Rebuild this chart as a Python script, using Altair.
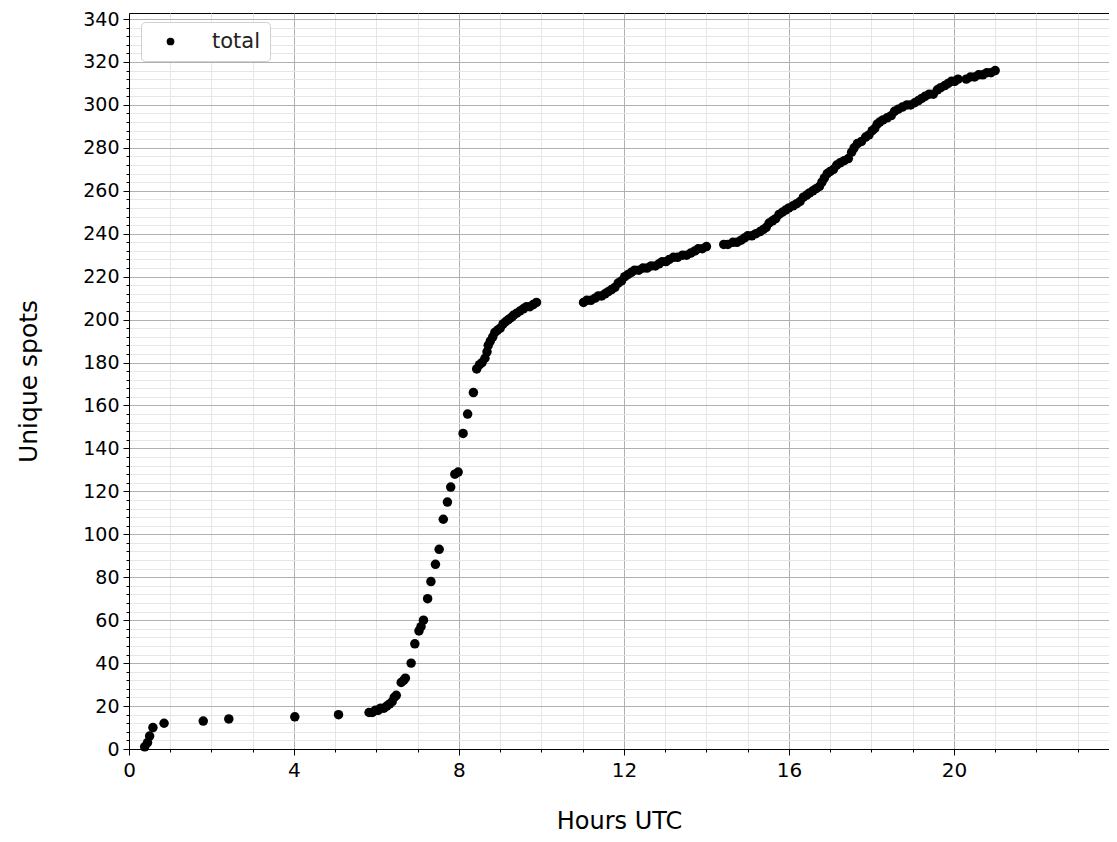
import altair as alt
import pandas as pd

# Hours UTC of each unique spot
hours = [
    0.38, 0.45, 0.50, 0.58, 0.85, 1.80, 2.42, 4.02, 5.08, 5.82,
    5.90, 5.97, 6.04, 6.10, 6.18, 6.25, 6.32, 6.38, 6.43, 6.48,
    6.60, 6.66, 6.70, 6.84, 6.93, 7.03, 7.08, 7.14, 7.24, 7.32,
    7.43, 7.52, 7.62, 7.72, 7.80, 7.90, 7.98, 8.10, 8.21, 8.35,
    8.43, 8.50, 8.56, 8.63, 8.68, 8.71, 8.76, 8.82, 8.87, 8.93,
    9.00, 9.07, 9.13, 9.20, 9.27, 9.32, 9.40, 9.48, 9.56, 9.64,
    9.72, 9.80, 9.88,
    11.02, 11.10, 11.20, 11.30, 11.38, 11.46, 11.54, 11.62, 11.70, 11.78,
    11.86, 11.94, 12.02, 12.10, 12.18, 12.26, 12.36, 12.46, 12.56, 12.66,
    12.76, 12.85, 12.93, 13.02, 13.10, 13.20, 13.30, 13.42, 13.52, 13.62,
    13.72, 13.80, 13.90, 14.00,
    14.42, 14.52, 14.64, 14.74, 14.84, 14.92, 15.00, 15.10, 15.20, 15.30,
    15.38, 15.45, 15.52, 15.60, 15.68, 15.76, 15.84, 15.92, 16.00, 16.10,
    16.19, 16.27, 16.35, 16.43, 16.50, 16.58, 16.66, 16.74, 16.80, 16.86,
    16.93, 17.00, 17.08, 17.16, 17.24, 17.34, 17.44, 17.52, 17.58, 17.66,
    17.76, 17.86, 17.94, 18.02, 18.08, 18.14, 18.20, 18.28, 18.38, 18.48,
    18.56, 18.65, 18.75, 18.86, 18.95, 19.05, 19.14, 19.22, 19.30, 19.40,
    19.50, 19.60, 19.68, 19.78, 19.86, 19.94, 20.02, 20.10,
    20.30, 20.40, 20.50, 20.60, 20.70, 20.80, 20.90, 21.00,
]

# Cumulative unique spots at those times
spots = [
    1, 3, 6, 10, 12, 13, 14, 15, 16, 17,
    17, 18, 18, 19, 19, 20, 21, 22, 24, 25,
    31, 32, 33, 40, 49, 55, 57, 60, 70, 78,
    86, 93, 107, 115, 122, 128, 129, 147, 156, 166,
    177, 179, 180, 182, 185, 188, 190, 192, 194, 195,
    196, 198, 199, 200, 201, 202, 203, 204, 205, 206,
    206, 207, 208,
    208, 209, 209, 210, 211, 211, 212, 213, 214, 215,
    217, 218, 220, 221, 222, 223, 223, 224, 224, 225,
    225, 226, 227, 227, 228, 229, 229, 230, 230, 231,
    232, 233, 233, 234,
    235, 235, 236, 236, 237, 238, 239, 239, 240, 241,
    242, 243, 245, 246, 247, 249, 250, 251, 252, 253,
    254, 255, 257, 258, 259, 260, 261, 262, 264, 266,
    268, 269, 270, 272, 273, 274, 275, 278, 280, 282,
    283, 285, 286, 288, 289, 291, 292, 293, 294, 295,
    297, 298, 299, 300, 300, 301, 302, 303, 304, 305,
    305, 307, 308, 309, 310, 311, 311, 312,
    312, 313, 313, 314, 314, 315, 315, 316,
]

series = ["total"] * len(hours)

x_major = [0, 4, 8, 12, 16, 20]
x_minor = [h for h in range(1, 24) if h % 4 != 0]
y_major = list(range(0, 341, 20))
y_minor = [v for v in range(4, 341, 4) if v % 20 != 0]

df = pd.DataFrame({"hours": hours, "spots": spots, "series": series})

FONT = "DejaVu Sans"
xscale = alt.Scale(domain=[0, 23.76], nice=False, zero=False)
yscale = alt.Scale(domain=[0, 342.8], nice=False)

minor = alt.Chart(df).mark_point(opacity=0).encode(
    x=alt.X("hours:Q", scale=xscale,
            axis=alt.Axis(values=x_minor, labels=False, domain=False, tickSize=3,
                          tickColor="black", grid=True, gridColor="#e6e6e6",
                          gridWidth=1, title=None, orient="bottom")),
    y=alt.Y("spots:Q", scale=yscale,
            axis=alt.Axis(values=y_minor, labels=False, domain=False, tickSize=3,
                          tickColor="black", grid=True, gridColor="#e6e6e6",
                          gridWidth=1, title=None, orient="left")),
)

major = alt.Chart(df).mark_circle(size=90, opacity=1).encode(
    x=alt.X("hours:Q", scale=xscale,
            axis=alt.Axis(values=x_major, title="Hours UTC", grid=True,
                          gridColor="#b0b0b0", gridWidth=1, tickSize=6,
                          domainColor="black", tickColor="black",
                          labelFontSize=20, titleFontSize=24, labelPadding=5,
                          labelFlush=False, titlePadding=29, orient="bottom")),
    y=alt.Y("spots:Q", scale=yscale,
            axis=alt.Axis(values=y_major, title="Unique spots", grid=True,
                          gridColor="#b0b0b0", gridWidth=1, tickSize=6,
                          domainColor="black", tickColor="black",
                          labelFontSize=19, titleFontSize=25, labelPadding=4,
                          labelFlush=False, titlePadding=41, orient="left")),
    color=alt.Color("series:N", scale=alt.Scale(range=["black"]),
                    legend=alt.Legend(orient="none", legendX=12, legendY=9,
                                      title=None, symbolType="circle",
                                      symbolSize=60, symbolOffset=10,
                                      labelOffset=31, labelFontSize=21,
                                      labelFont=FONT, labelColor="#222222",
                                      fillColor="white", strokeColor="#d0d0d0",
                                      cornerRadius=4, padding=9)),
)

chart = (
    alt.layer(minor, major)
    .resolve_axis(x="independent", y="independent")
    .properties(width=980, height=736, autosize=alt.AutoSizeParams(type="none"),
                padding={"left": 121, "top": 5, "right": 0, "bottom": 85})
    .configure_view(stroke="black", strokeWidth=1)
    .configure_axis(labelFont=FONT, titleFont=FONT, titleFontWeight="normal",
                    labelColor="black", titleColor="black")
)

chart.save("out.html", embed_options={"renderer": "svg", "actions": False})
